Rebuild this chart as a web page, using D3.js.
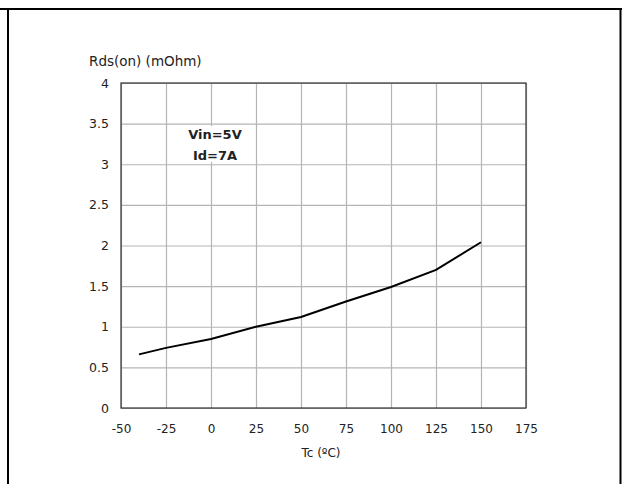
<!DOCTYPE html>
<html lang="en">
<head>
  <meta charset="UTF-8">
  <title>Rds(on) vs Tc</title>
  <script src="https://d3js.org/d3.v7.min.js"></script>
  <style>
    body { margin: 0; background: #fff; }
    text { font-family: "DejaVu Sans", Arial, sans-serif; fill: #222; }
  </style>
</head>
<body>
  <svg id="chart" width="622" height="484"></svg>
  <script>
    // data
    let temps = [-40, -25, 0, 25, 50, 75, 100, 125, 150];
    let rds = [0.66, 0.74, 0.85, 1.0, 1.12, 1.31, 1.49, 1.70, 2.04];
    let xTicks = [-50, -25, 0, 25, 50, 75, 100, 125, 150, 175];
    let yTicks = [0, 0.5, 1, 1.5, 2, 2.5, 3, 3.5, 4];
    let notes = ['Vin=5V', 'Id=7A'];

    let svg = d3.select('#chart');
    let marginLeft = 121, marginTop = 83, width = 405, height = 325;
    let font = '"DejaVu Sans", Arial, sans-serif';

    // outer frame
    svg.append('line').attr('x1', 0).attr('x2', 622).attr('y1', 9).attr('y2', 9)
      .attr('stroke', '#000').attr('stroke-width', 2);
    svg.append('line').attr('x1', 8).attr('x2', 8).attr('y1', 8).attr('y2', 484)
      .attr('stroke', '#000').attr('stroke-width', 2);
    svg.append('line').attr('x1', 620.5).attr('x2', 620.5).attr('y1', 8).attr('y2', 484)
      .attr('stroke', '#000').attr('stroke-width', 2);

    let x = d3.scaleLinear().domain([-50, 175]).range([0, width]);
    let y = d3.scaleLinear().domain([0, 4]).range([height, 0]);

    let g = svg.append('g').attr('transform', 'translate(' + marginLeft + ',' + marginTop + ')');

    // grid
    g.append('g')
      .call(d3.axisBottom(x).tickValues(xTicks).tickSize(height).tickFormat(''))
      .call(function (s) {
        s.select('.domain').remove();
        s.selectAll('line').attr('stroke', '#b4b4b4').attr('stroke-width', 1.2);
      });
    g.append('g')
      .call(d3.axisLeft(y).tickValues(yTicks).tickSize(-width).tickFormat(''))
      .call(function (s) {
        s.select('.domain').remove();
        s.selectAll('line').attr('stroke', '#b4b4b4').attr('stroke-width', 1.2);
      });

    // plot border
    g.append('rect').attr('x', 0).attr('y', 0).attr('width', width).attr('height', height)
      .attr('fill', 'none').attr('stroke', '#333').attr('stroke-width', 1.2);

    // tick labels (plain hyphen for negatives, like the original)
    g.append('g')
      .attr('transform', 'translate(0,' + height + ')')
      .call(d3.axisBottom(x).tickValues(xTicks).tickSize(0).tickPadding(16)
        .tickFormat(function (d) { return String(d); }))
      .call(function (s) {
        s.select('.domain').remove();
        s.selectAll('text').attr('font-size', 12).style('font-family', font).attr('fill', '#222');
      });
    g.append('g')
      .call(d3.axisLeft(y).tickValues(yTicks).tickSize(0).tickPadding(12)
        .tickFormat(function (d) { return String(d); }))
      .call(function (s) {
        s.select('.domain').remove();
        s.selectAll('text').attr('font-size', 12.5).style('font-family', font).attr('fill', '#222');
      });

    // annotation box
    g.append('rect').attr('x', x(-19)).attr('y', y(3.47)).attr('width', x(20) - x(-19))
      .attr('height', y(3.03) - y(3.47)).attr('fill', '#fff');
    g.selectAll('.note')
      .data(notes)
      .join('text')
      .attr('class', 'note')
      .attr('x', x(2.2))
      .attr('y', function (d, i) { return y(3.31 - i * 0.26); })
      .attr('text-anchor', 'middle')
      .attr('font-size', 13)
      .attr('font-weight', 'bold')
      .text(function (d) { return d; });

    // curve
    let line = d3.line()
      .x(function (d, i) { return x(temps[i]); })
      .y(function (d) { return y(d); });
    g.append('path').datum(rds)
      .attr('d', line)
      .attr('fill', 'none')
      .attr('stroke', '#000')
      .attr('stroke-width', 2);

    // axis titles
    svg.append('text').attr('x', 89).attr('y', 66).attr('font-size', 13.5).text('Rds(on) (mOhm)');
    svg.append('text').attr('x', 321).attr('y', 457).attr('text-anchor', 'middle')
      .attr('font-size', 12).text('Tc (ºC)');
  </script>
</body>
</html>
